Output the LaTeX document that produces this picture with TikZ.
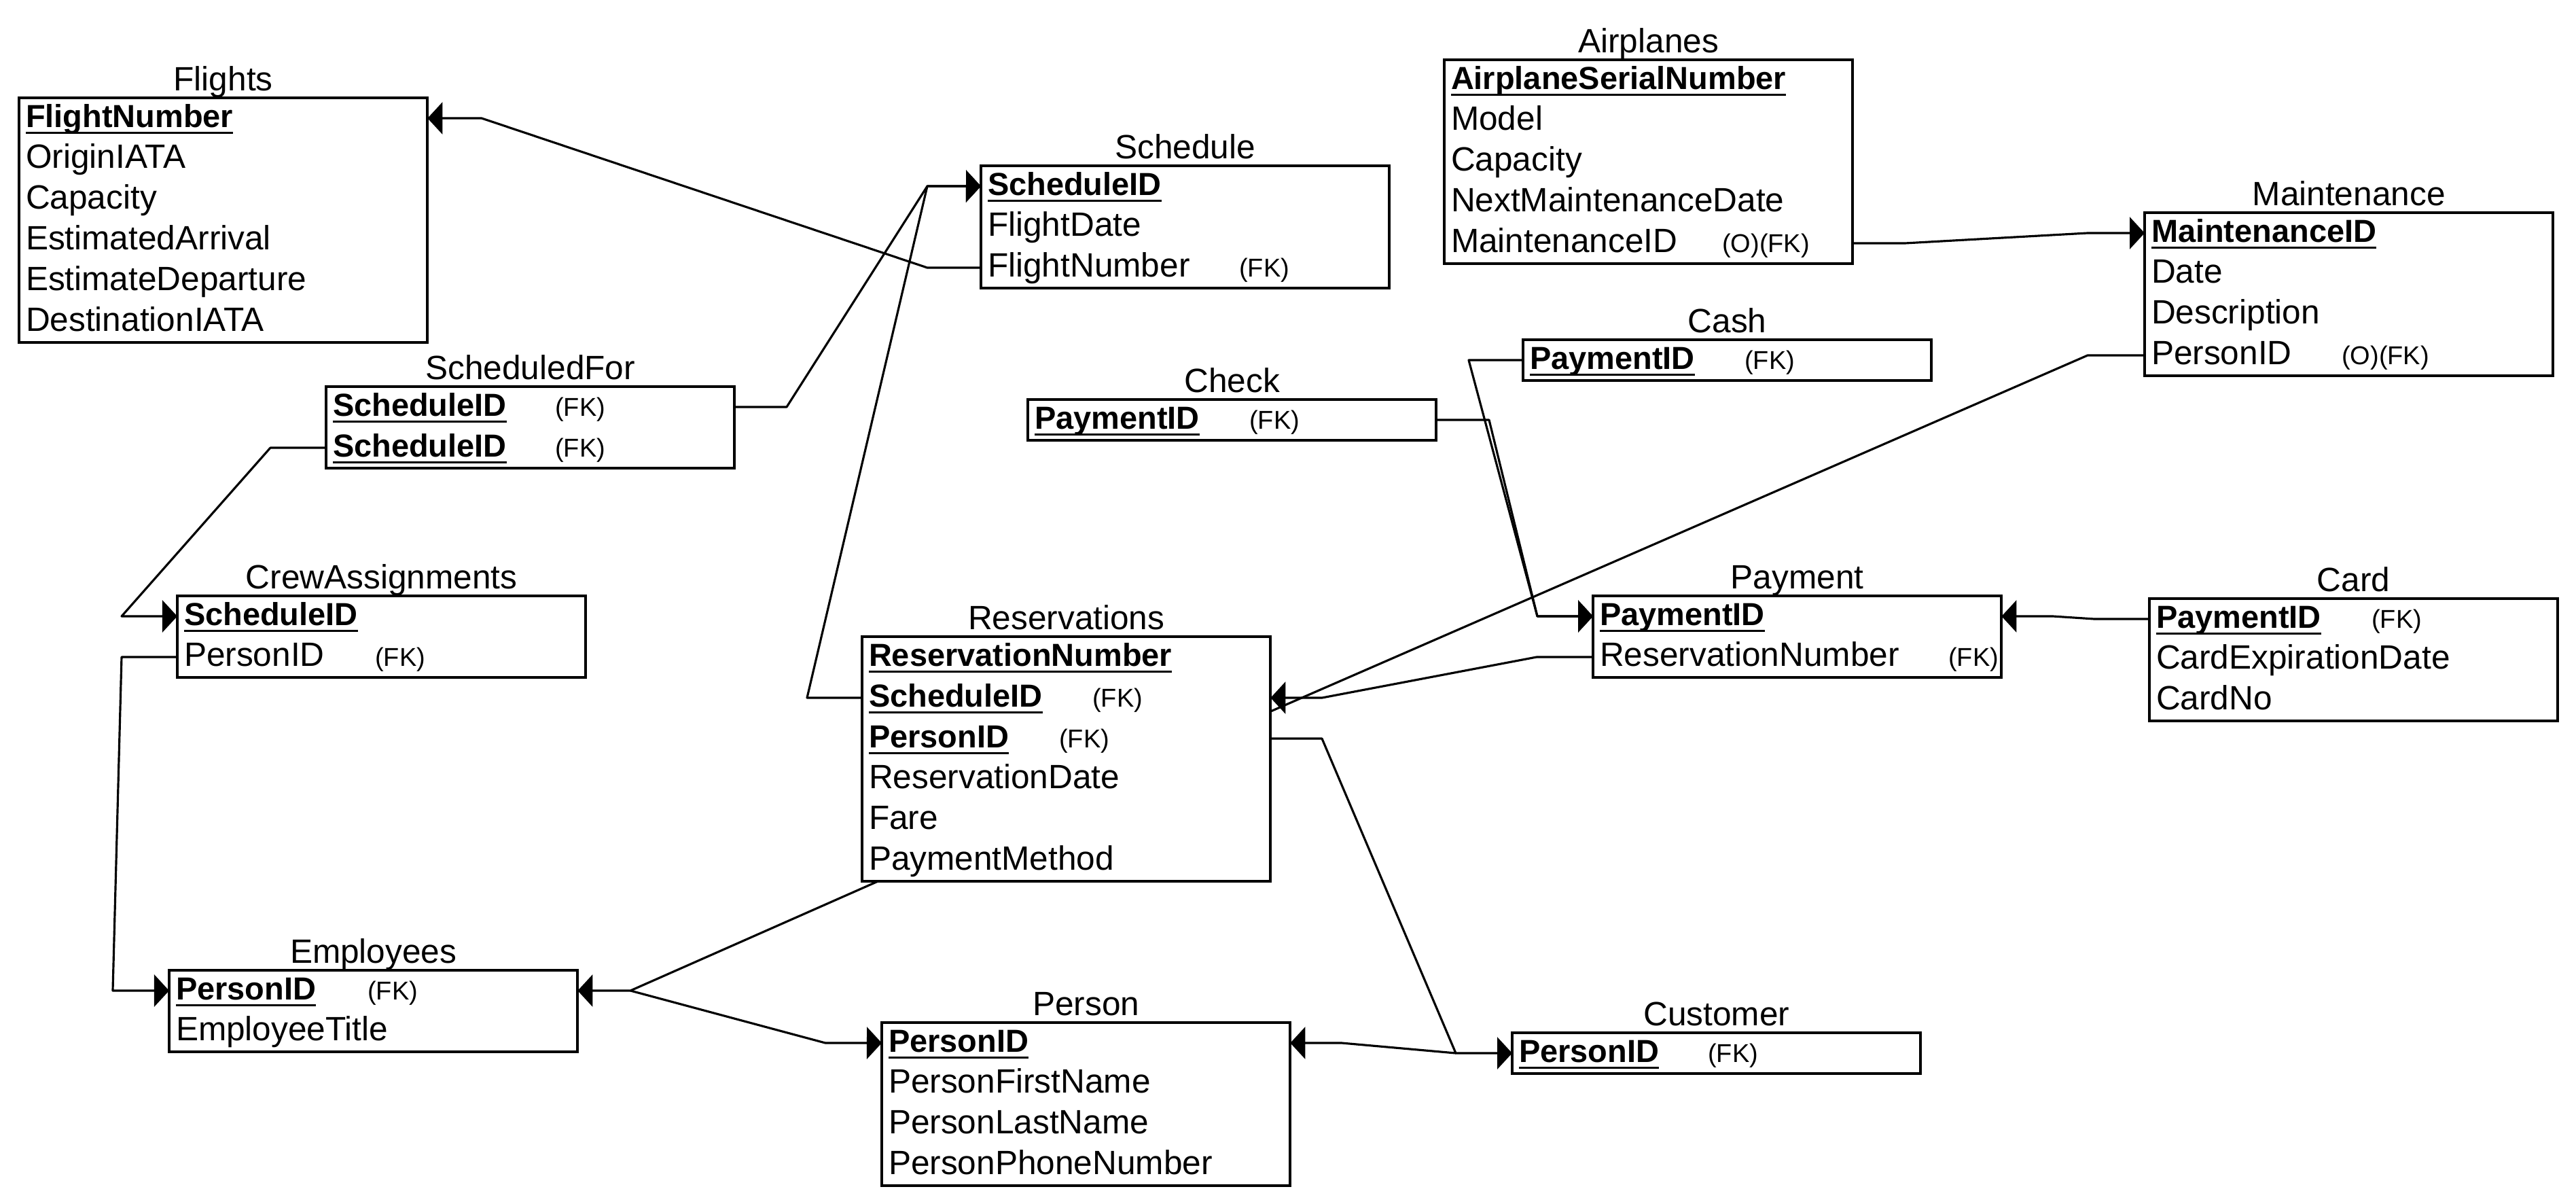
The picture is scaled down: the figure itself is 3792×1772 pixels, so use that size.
\documentclass[tikz,border=0pt]{standalone}
\usepackage{fontspec}
\setmainfont{Liberation Sans}
\usetikzlibrary{arrows.meta,calc}

\newcommand\keyu[1]{\setbox0\hbox{\fontsize{13.35pt}{16pt}\selectfont\bfseries #1}\rlap{\rule[-0.10cm]{\wd0}{0.03cm}}\box0}
\newcommand\fk[1]{{\fontsize{10.8pt}{12pt}\selectfont #1}}
\newcommand\fld[2]{\makebox[#1][l]{#2}}

\tikzset{
  ebox/.style={draw, line width=1.2pt, minimum width=6.01cm, inner sep=0pt, outer sep=0pt, anchor=north west},
  etitle/.style={font=\fontsize{14.1pt}{16pt}\selectfont, inner sep=0pt, anchor=base},
  erow/.style={inner xsep=0.1cm, inner ysep=0pt, outer sep=0pt, text width=5.81cm, align=left,
    minimum height=0.6cm, text height=0.36cm, text depth=0.1cm, anchor=north west,
    font=\fontsize{14.1pt}{16pt}\selectfont},
  conn/.style={line width=0.9pt, line join=round},
  arr/.style={-{Triangle[length=0.22cm,width=0.47cm]}},
}

\newcommand\ent[5]{%
  \node[ebox, minimum height=#4*0.6cm] (#1) at (#2,#3) {};
  \node[etitle] (#1-t) at ([yshift=0.11cm]#1.north) {#5};
}
\newcommand\rw[3]{%
  \node[erow] (#1-#2) at ($(#1.north west)+(0,{60*(#2-1)})$) {#3};
}

\begin{document}
\begin{tikzpicture}[x=0.01cm, y=-0.01cm]
\fill[white] (0,0) rectangle (3792,1772);
\useasboundingbox (0,0) rectangle (3792,1772);

% Flights
\ent{fl}{28}{144}{6}{Flights}
\rw{fl}{1}{\keyu{FlightNumber}}
\rw{fl}{2}{OriginIATA}
\rw{fl}{3}{Capacity}
\rw{fl}{4}{EstimatedArrival}
\rw{fl}{5}{EstimateDeparture}
\rw{fl}{6}{DestinationIATA}

% Schedule
\ent{sch}{1444}{244}{3}{Schedule}
\rw{sch}{1}{\keyu{ScheduleID}}
\rw{sch}{2}{FlightDate}
\rw{sch}{3}{\fld{3.70cm}{FlightNumber}\fk{(FK)}}

% ScheduledFor
\ent{sf}{480}{569}{2}{ScheduledFor}
\rw{sf}{1}{\fld{3.27cm}{\keyu{ScheduleID}}\fk{(FK)}}
\rw{sf}{2}{\fld{3.27cm}{\keyu{ScheduleID}}\fk{(FK)}}

% CrewAssignments
\ent{crew}{261}{877}{2}{CrewAssignments}
\rw{crew}{1}{\keyu{ScheduleID}}
\rw{crew}{2}{\fld{2.81cm}{PersonID}\fk{(FK)}}

% Employees
\ent{emp}{249}{1428}{2}{Employees}
\rw{emp}{1}{\fld{2.82cm}{\keyu{PersonID}}\fk{(FK)}}
\rw{emp}{2}{EmployeeTitle}

% Person
\ent{per}{1298}{1505}{4}{Person}
\rw{per}{1}{\keyu{PersonID}}
\rw{per}{2}{PersonFirstName}
\rw{per}{3}{PersonLastName}
\rw{per}{4}{PersonPhoneNumber}

% Customer
\ent{cus}{2226}{1520}{1}{Customer}
\rw{cus}{1}{\fld{2.78cm}{\keyu{PersonID}}\fk{(FK)}}

% Reservations
\ent{res}{1269}{937}{6}{Reservations}
\rw{res}{1}{\keyu{ReservationNumber}}
\rw{res}{2}{\fld{3.29cm}{\keyu{ScheduleID}}\fk{(FK)}}
\rw{res}{3}{\fld{2.80cm}{\keyu{PersonID}}\fk{(FK)}}
\rw{res}{4}{ReservationDate}
\rw{res}{5}{Fare}
\rw{res}{6}{PaymentMethod}

% Payment
\ent{pay}{2345}{877}{2}{Payment}
\rw{pay}{1}{\keyu{PaymentID}}
\rw{pay}{2}{\fld{5.13cm}{ReservationNumber}\fk{(FK)}}

% Card
\ent{card}{3164}{881}{3}{Card}
\rw{card}{1}{\fld{3.17cm}{\keyu{PaymentID}}\fk{(FK)}}
\rw{card}{2}{CardExpirationDate}
\rw{card}{3}{CardNo}

% Check
\ent{chk}{1513}{588}{1}{Check}
\rw{chk}{1}{\fld{3.16cm}{\keyu{PaymentID}}\fk{(FK)}}

% Cash
\ent{cash}{2242}{500}{1}{Cash}
\rw{cash}{1}{\fld{3.16cm}{\keyu{PaymentID}}\fk{(FK)}}

% Airplanes
\ent{air}{2126}{88}{5}{Airplanes}
\rw{air}{1}{\keyu{AirplaneSerialNumber}}
\rw{air}{2}{Model}
\rw{air}{3}{Capacity}
\rw{air}{4}{NextMaintenanceDate}
\rw{air}{5}{\fld{3.99cm}{MaintenanceID}\fk{(O)(FK)}}

% Maintenance
\ent{mnt}{3157}{313}{4}{Maintenance}
\rw{mnt}{1}{\keyu{MaintenanceID}}
\rw{mnt}{2}{Date}
\rw{mnt}{3}{Description}
\rw{mnt}{4}{\fld{2.80cm}{PersonID}\fk{(O)(FK)}}

% bend points
\coordinate (J1) at (1365,274);
\coordinate (J2) at (928,1458);
\coordinate (J3) at (2143,1550);
\coordinate (J4) at (2263,907);
\coordinate (J5) at (1946,1027);

% connectors
\draw[conn,arr] (sch-3.west) -- (1365,394) -- (709,174) -- (fl-1.east);
\draw[conn,arr] (sf-1.east) -- (1158,599) -- (J1) -- (sch-1.west);
\draw[conn,arr] (res-2.west) -- (1188,1027) -- (J1) -- (sch-1.west);
\draw[conn,arr] (sf-2.west) -- (398,659) -- (179,907) -- (crew-1.west);
\draw[conn,arr] (crew-2.west) -- (179,967) -- (166,1458) -- (emp-1.west);
\draw[conn,arr] ($(res.south west)+(23,0)$) -- (J2) -- (emp-1.east);
\draw[conn,arr] (J2) -- (1215,1535) -- (per-1.west);
\draw[conn,arr] (res-3.east) -- (1946,1087) -- (J3) -- (cus-1.west);
\draw[conn,arr] (J3) -- (1975,1535) -- (per-1.east);
\draw[conn,arr] (pay-2.west) -- (2262,967) -- (J5) -- (res-2.east);
\draw[conn] (mnt-4.west) -- (3073,523) -- ($(res-2.east)+(0,20)$);
\draw[conn,arr] (chk-1.east) -- (2192,618) -- (J4) -- (pay-1.west);
\draw[conn,arr] (cash-1.west) -- (2162,530) -- (J4) -- (pay-1.west);
\draw[conn,arr] (card-1.west) -- (3083,911) -- (3022,907) -- (pay-1.east);
\draw[conn,arr] (air-5.east) -- (2804,358) -- (3073,343) -- (mnt-1.west);
\end{tikzpicture}
\end{document}
